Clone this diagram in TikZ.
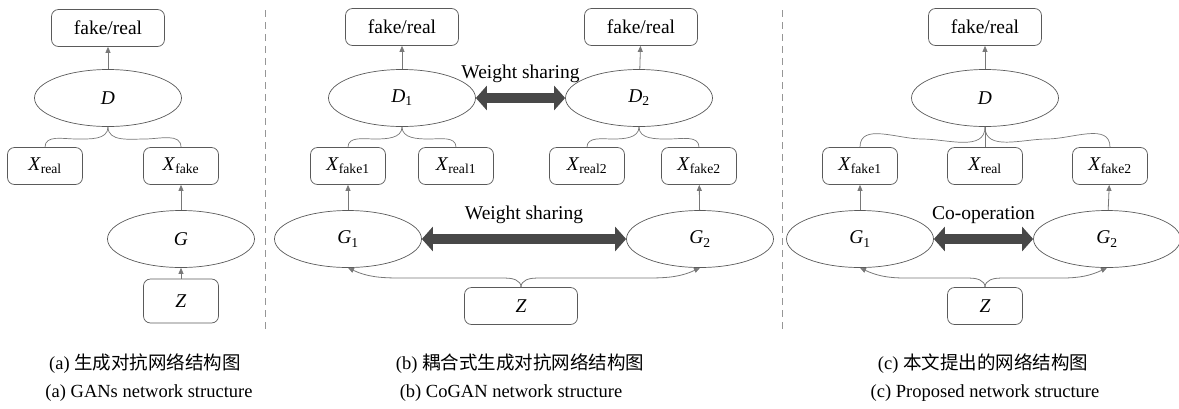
\documentclass[tikz,border=0pt]{standalone}
\usepackage{fontspec}
\setmainfont{Liberation Serif}
\newfontfamily\cjk{Noto Sans CJK SC}
\usetikzlibrary{shapes.geometric,arrows.meta}

\definecolor{linegray}{RGB}{90,90,90}
\definecolor{arrowgray}{RGB}{120,120,120}
\definecolor{sharegray}{RGB}{72,72,72}
\definecolor{dashgray}{RGB}{150,150,150}

\tikzset{
  box/.style={draw=linegray, line width=0.7pt, rounded corners=7pt, minimum width=75, minimum height=37, inner sep=0pt,
    font=\fontsize{19.5}{22}\selectfont},
  widebox/.style={box, minimum width=113},
  oval/.style={ellipse, draw=linegray, line width=0.7pt, minimum width=147, minimum height=57, inner sep=0pt,
    font=\fontsize{19.5}{22}\selectfont},
  arr/.style={draw=arrowgray, line width=0.8pt, -{Triangle[length=6pt,width=5pt]}},
  brace/.style={draw=arrowgray, line width=0.7pt},
  share/.style={draw=sharegray, line width=10pt, {Triangle[length=11pt,width=24pt]}-{Triangle[length=11pt,width=24pt]}},
  sharetext/.style={font=\fontsize{19.5}{22}\selectfont},
  caption/.style={font=\fontsize{18.5}{21}\selectfont, anchor=base}
}
\newcommand{\Xs}[1]{\textit{X}\textsubscript{#1}}

\begin{document}
\begin{tikzpicture}[x=1pt,y=-1pt]
    \useasboundingbox (0,0) rectangle (1179,408);

    % (a) GANs
    \node[widebox] (fr_a) at (108,28) {fake/real};
    \node[oval] (D_a) at (108,98) {\textit{D}};
    \node[box] (xr_a) at (45,166) {\Xs{real}};
    \node[box] (xf_a) at (181,166) {\Xs{fake}};
    \node[oval] (G_a) at (181,239) {\textit{G}};
    \node[box, minimum height=44] (Z_a) at (181,301) {\textit{Z}};
    \draw[arr] (D_a) -- (fr_a);
    \draw[brace] (D_a.south) to[out=-90,in=0] (76,139) to[out=180,in=90] (xr_a.north);
    \draw[brace] (D_a.south) to[out=-90,in=180] (145,139) to[out=0,in=90] (xf_a.north);
    \draw[arr] (G_a) -- (xf_a);
    \draw[arr] (Z_a) -- (G_a);

    \draw[dashgray, dashed, dash pattern=on 7pt off 5pt, line width=0.7pt] (265,10) -- (265,333);

    % (b) CoGAN
    \node[widebox] (fr_b1) at (402,27) {fake/real};
    \node[widebox] (fr_b2) at (641,27) {fake/real};
    \node[oval] (D_b1) at (402,98) {\textit{D}\textsubscript{1}};
    \node[oval] (D_b2) at (639,98) {\textit{D}\textsubscript{2}};
    \node[box] (xf_b1) at (348,166) {\Xs{fake1}};
    \node[box] (xr_b1) at (456,166) {\Xs{real1}};
    \node[box] (xr_b2) at (587,166) {\Xs{real2}};
    \node[box] (xf_b2) at (699,166) {\Xs{fake2}};
    \node[oval] (G_b1) at (348,239) {\textit{G}\textsubscript{1}};
    \node[oval] (G_b2) at (700,239) {\textit{G}\textsubscript{2}};
    \node[widebox] (Z_b) at (521,306) {\textit{Z}};
    \draw[arr] (D_b1) -- (fr_b1);
    \draw[arr] (D_b2) -- (fr_b2);
    \draw[share] (D_b1.east) -- (D_b2.west) node[sharetext, midway, above=7pt] {Weight sharing};
    \draw[brace] (D_b1.south) to[out=-90,in=0] (375,139) to[out=180,in=90] (xf_b1.north);
    \draw[brace] (D_b1.south) to[out=-90,in=180] (429,139) to[out=0,in=90] (xr_b1.north);
    \draw[brace] (D_b2.south) to[out=-90,in=0] (613,139) to[out=180,in=90] (xr_b2.north);
    \draw[brace] (D_b2.south) to[out=-90,in=180] (669,139) to[out=0,in=90] (xf_b2.north);
    \draw[arr] (G_b1) -- (xf_b1);
    \draw[arr] (G_b2) -- (xf_b2);
    \draw[share] (G_b1.east) -- (G_b2.west) node[sharetext, midway, above=7pt] {Weight sharing};
    \draw[arr] (Z_b.north) to[out=90,in=0] (505,278) -- (400,278) to[out=180,in=-25] (G_b1.south);
    \draw[arr] (Z_b.north) to[out=90,in=180] (537,278) -- (648,278) to[out=0,in=-155] (G_b2.south);

    \draw[dashgray, dashed, dash pattern=on 7pt off 5pt, line width=0.7pt] (782,10) -- (782,333);

    % (c) proposed
    \node[widebox] (fr_c) at (985,27) {fake/real};
    \node[oval] (D_c) at (985,98) {\textit{D}};
    \node[box] (xf_c1) at (860,166) {\Xs{fake1}};
    \node[box] (xr_c) at (985,166) {\Xs{real}};
    \node[box] (xf_c2) at (1110,166) {\Xs{fake2}};
    \node[oval] (G_c1) at (860,239) {\textit{G}\textsubscript{1}};
    \node[oval] (G_c2) at (1107,239) {\textit{G}\textsubscript{2}};
    \node[box] (Z_c) at (985,306) {\textit{Z}};
    \draw[arr] (D_c) -- (fr_c);
    \draw[brace] (D_c.south) to[out=-90,in=0] (922,139) to[out=180,in=90] (xf_c1.north);
    \draw[brace] (D_c.south) -- (xr_c.north);
    \draw[brace] (D_c.south) to[out=-90,in=180] (1047,139) to[out=0,in=90] (xf_c2.north);
    \draw[arr] (G_c1) -- (xf_c1);
    \draw[arr] (G_c2) -- (xf_c2);
    \draw[share] (G_c1.east) -- (G_c2.west) node[sharetext, midway, above=7pt] {Co-operation};
    \draw[arr] (Z_c.north) to[out=90,in=0] (969,278) -- (905,278) to[out=180,in=-25] (G_c1.south);
    \draw[arr] (Z_c.north) to[out=90,in=180] (1001,278) -- (1062,278) to[out=0,in=-155] (G_c2.south);

    % captions
    \node[caption] (cap_a1) at (145,369) {(a) {\cjk 生成对抗网络结构图}};
    \node[caption] (cap_a2) at (149,397) {(a) GANs network structure};
    \node[caption] (cap_b1) at (520,369) {(b) {\cjk 耦合式生成对抗网络结构图}};
    \node[caption] (cap_b2) at (511,397) {(b) CoGAN network structure};
    \node[caption] (cap_c1) at (983,369) {(c) {\cjk 本文提出的网络结构图}};
    \node[caption] (cap_c2) at (985,397) {(c) Proposed network structure};
\end{tikzpicture}
\end{document}
